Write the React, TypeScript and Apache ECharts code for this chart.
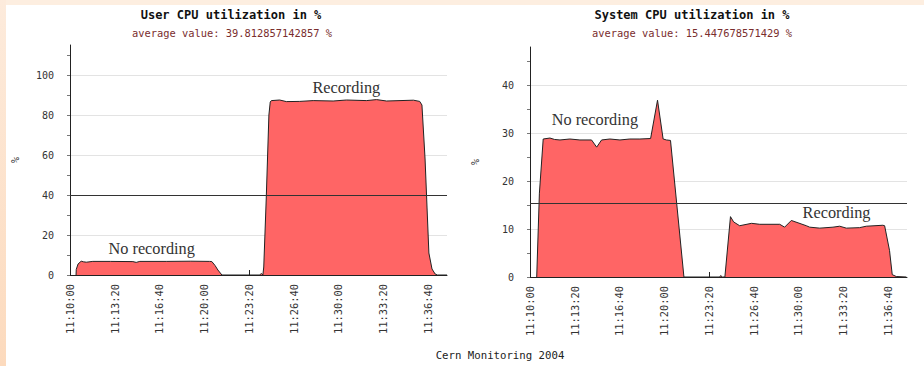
import { useEffect, useRef } from 'react';
import * as echarts from 'echarts';

// Seconds elapsed since 11:10:00
const tickSeconds = [0, 200, 400, 600, 800, 1000, 1200, 1400, 1600];
const axisEnd = 1685;

const userTimes = [
  27, 28, 36, 50, 60, 73, 102, 180, 281, 296, 312, 430, 540, 624, 634, 648, 661, 679, 760, 848, 855,
  862, 866, 877, 889, 895, 900, 937, 967, 1027, 1087, 1176, 1236, 1325, 1370, 1415, 1475, 1535, 1563,
  1573, 1587, 1604, 1618, 1632, 1642, 1685,
];
const userValues = [
  0, 2.8, 5.5, 6.9, 6.6, 6.4, 6.8, 6.8, 6.7, 6.3, 6.8, 6.8, 6.9, 6.8, 6.7, 4.8, 2.5, 0, 0, 0, 0.8,
  0, 4, 38, 80, 86.5, 87.2, 87.5, 86.7, 86.8, 87.2, 87.0, 87.5, 87.2, 87.7, 87.0, 87.2, 87.4, 86.8,
  85, 58, 11, 3, 0.5, 0, 0,
];

const systemTimes = [
  30, 42, 59, 89, 110, 134, 178, 223, 275, 298, 320, 357, 402, 446, 491, 539, 570, 595, 610, 628,
  688, 848, 852, 860, 871, 896, 910, 937, 990, 1027, 1116, 1138, 1168, 1235, 1250, 1295, 1354, 1384,
  1414, 1473, 1503, 1577, 1585, 1607, 1619, 1637, 1682,
];
const systemValues = [
  0, 17.5, 28.8, 29.0, 28.7, 28.6, 28.8, 28.6, 28.6, 27.1, 28.6, 28.8, 28.6, 28.8, 28.8, 28.9, 36.9,
  28.8, 28.6, 28.5, 0, 0, 0.3, 0, 0, 12.6, 11.5, 10.7, 11.2, 11.0, 11.0, 10.4, 11.8, 10.7, 10.4,
  10.2, 10.4, 10.6, 10.2, 10.3, 10.6, 10.8, 10.7, 5.5, 0.5, 0.1, 0,
];

const userAverage = 39.812857142857;
const systemAverage = 15.447678571429;

const userYTicks = [0, 10, 20, 30, 40, 50, 60, 70, 80, 90, 100, 110];
const userYLabels = [0, 20, 40, 60, 80, 100];
const systemYTicks = [0, 5, 10, 15, 20, 25, 30, 35, 40, 45];
const systemYLabels = [0, 10, 20, 30, 40];

const userNotes = [
  { name: 'No recording', coord: [365, 13.5] },
  { name: 'Recording', coord: [1235, 94] },
];
const systemNotes = [
  { name: 'No recording', coord: [290, 32.8] },
  { name: 'Recording', coord: [1370, 13.4] },
];

const MONO = '"DejaVu Sans Mono", monospace';
const SERIF = '"Liberation Serif", "DejaVu Serif", serif';

function clock(sec: number): string {
  const total = 11 * 3600 + 10 * 60 + Math.round(sec);
  const h = Math.floor(total / 3600);
  const m = Math.floor((total % 3600) / 60);
  const s = total % 60;
  const p = (n: number) => String(n).padStart(2, '0');
  return `${p(h)}:${p(m)}:${p(s)}`;
}

function panel(
  idx: number,
  gridPos: { left: number; top: number; width: number; height: number },
  yMax: number,
  gridStep: number,
  yTicks: number[],
  yLabels: number[],
  times: number[],
  values: number[],
  average: number,
  notes: { name: string; coord: number[] }[]
) {
  const grid = { ...gridPos };
  const xAxis = {
    type: 'value',
    gridIndex: idx,
    min: 0,
    max: axisEnd,
    axisLine: { show: true, lineStyle: { color: '#222', width: 1 } },
    axisTick: { show: true, inside: true, length: 5, customValues: tickSeconds, lineStyle: { color: '#222' } },
    axisLabel: {
      customValues: tickSeconds,
      rotate: 90,
      margin: 9,
      formatter: (v: number) => clock(v),
      fontFamily: MONO,
      fontSize: 10.4,
      color: '#333',
    },
    splitLine: { show: false },
  };
  const yMain = {
    type: 'value',
    gridIndex: idx,
    min: 0,
    max: yMax,
    position: 'left',
    name: '%',
    nameLocation: 'middle',
    nameGap: 50,
    nameRotate: 90,
    nameTextStyle: { fontFamily: MONO, fontSize: 10, color: '#333' },
    axisLine: { show: true, lineStyle: { color: '#222', width: 1 } },
    axisTick: { show: true, length: 3, customValues: yTicks, lineStyle: { color: '#777' } },
    axisLabel: { customValues: yLabels, margin: 16, fontFamily: MONO, fontSize: 10, color: '#333' },
    splitLine: { show: false },
  };
  const yGrid = {
    type: 'value',
    gridIndex: idx,
    min: 0,
    max: yMax,
    interval: gridStep,
    position: 'left',
    axisLine: { show: false },
    axisTick: { show: false },
    axisLabel: { show: false },
    splitLine: { show: true, showMinLine: false, showMaxLine: false, lineStyle: { color: '#e3e3e3', width: 1 } },
  };
  const series = {
    type: 'line',
    xAxisIndex: idx,
    yAxisIndex: idx * 2,
    data: times.map((t, i) => [t, values[i]]),
    showSymbol: false,
    symbol: 'none',
    lineStyle: { color: '#222', width: 1 },
    areaStyle: { color: '#ff6565', opacity: 1 },
    z: 2,
    markLine: {
      silent: true,
      symbol: ['none', 'none'],
      label: { show: false },
      lineStyle: { color: '#333', width: 1, type: 'solid' },
      data: [{ yAxis: average }],
    },
    markPoint: {
      silent: true,
      symbol: 'rect',
      symbolSize: 1,
      itemStyle: { color: 'rgba(0,0,0,0)' },
      label: { show: true, position: 'inside', formatter: '{b}', color: '#333', fontFamily: SERIF, fontSize: 16.3 },
      data: notes,
    },
  };
  return { grid, xAxis, yAxes: [yMain, yGrid], series };
}

const left = panel(0, { left: 70, top: 45, width: 377, height: 230 }, 115, 20, userYTicks, userYLabels,
  userTimes, userValues, userAverage, userNotes);
const right = panel(1, { left: 530, top: 47, width: 377, height: 230 }, 48, 10, systemYTicks, systemYLabels,
  systemTimes, systemValues, systemAverage, systemNotes);

function headerText(x: number, y: number, text: string, font: string, fill: string) {
  return { type: 'text', x, y, silent: true, style: { text, font, fill, align: 'center', verticalAlign: 'middle' } };
}

const option = {
  animation: false,
  backgroundColor: '#ffffff',
  grid: [left.grid, right.grid],
  xAxis: [left.xAxis, right.xAxis],
  yAxis: [...left.yAxes, ...right.yAxes],
  series: [left.series, right.series],
  graphic: [
    { type: 'rect', silent: true, shape: { x: 0, y: 0, width: 924, height: 5 }, style: { fill: '#fdeee0' } },
    {
      type: 'rect',
      silent: true,
      shape: { x: 0, y: 0, width: 6, height: 366 },
      style: {
        fill: new echarts.graphic.LinearGradient(0, 0, 0, 1, [
          { offset: 0, color: '#fdebdc' },
          { offset: 1, color: '#fcdabd' },
        ]),
      },
    },
    headerText(231, 15, 'User CPU utilization in %', `bold 12px ${MONO}`, '#111'),
    headerText(232, 33, `average value: ${userAverage} %`, `10.4px ${MONO}`, '#7a2e2e'),
    headerText(692, 15, 'System CPU utilization in %', `bold 12px ${MONO}`, '#111'),
    headerText(692, 33, `average value: ${systemAverage} %`, `10.4px ${MONO}`, '#7a2e2e'),
    headerText(500, 355, 'Cern Monitoring 2004', `10.7px ${MONO}`, '#222'),
  ],
};

export default function App() {
  const ref = useRef<HTMLDivElement>(null);
  useEffect(() => {
    if (!ref.current) return;
    const chart = echarts.init(ref.current, null, { renderer: 'svg' });
    chart.setOption(option as any);
    return () => chart.dispose();
  }, []);
  return <div ref={ref} style={{ position: 'fixed', left: 0, top: 0, width: 924, height: 366 }} />;
}
